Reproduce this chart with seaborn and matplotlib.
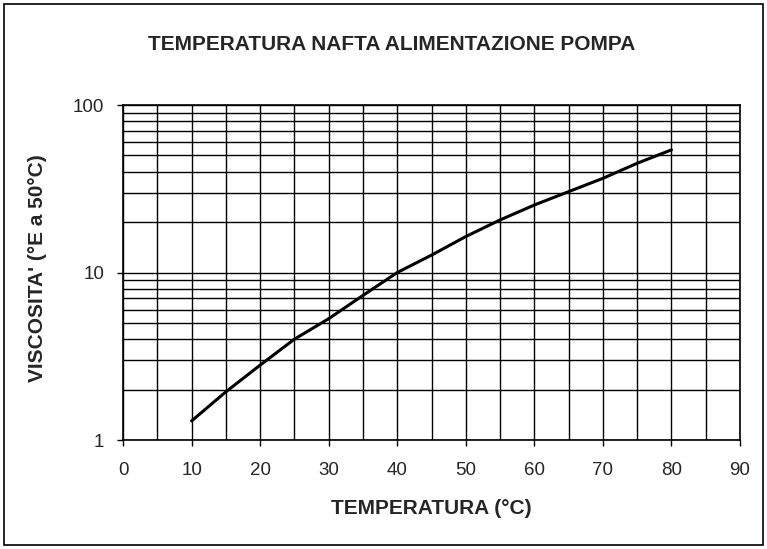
import numpy as np
import pandas as pd
import matplotlib
matplotlib.use("Agg")
import matplotlib.pyplot as plt
import seaborn as sns
from matplotlib.patches import Rectangle
from matplotlib.ticker import LogLocator, FixedLocator, NullFormatter

# ── Data ──────────────────────────────────────────────────────────────────────
temperature = [10, 15, 20, 25, 30, 35, 40, 45, 50, 55, 60, 65, 70, 75, 80]
viscosity = [1.30, 1.94, 2.8, 4.0, 5.3, 7.3, 10.0, 12.7, 16.4, 20.6, 25.3, 30.4, 36.5, 44.9, 54.0]
x_ticks = [0, 10, 20, 30, 40, 50, 60, 70, 80, 90]
y_ticks = [1, 10, 100]

df = pd.DataFrame({"temp": temperature, "visc": viscosity})

sns.set_style("white")
plt.rcParams["font.family"] = ["Liberation Sans", "DejaVu Sans"]

fig = plt.figure(figsize=(7.67, 5.49), dpi=100)
ax = fig.add_axes([0.1604, 0.1985, 0.8044, 0.6102])

sns.lineplot(data=df, x="temp", y="visc", color="black", linewidth=2.2, ax=ax)

ax.set_yscale("log")
ax.set_xlim(0, 90)
ax.set_ylim(1, 100)

ax.xaxis.set_major_locator(FixedLocator(x_ticks))
ax.xaxis.set_minor_locator(FixedLocator(list(range(5, 90, 10))))
ax.yaxis.set_major_locator(FixedLocator(y_ticks))
ax.yaxis.set_minor_locator(LogLocator(base=10, subs=range(2, 10)))
ax.yaxis.set_minor_formatter(NullFormatter())
ax.set_yticklabels([str(v) for v in y_ticks])
ax.set_xticklabels([str(v) for v in x_ticks])

ax.grid(which="both", color="black", linewidth=1.0)
ax.tick_params(which="major", direction="out", length=4.5, width=1, color="black",
               labelsize=13.5, left=True, bottom=True)
ax.tick_params(axis="x", which="major", pad=11)
ax.tick_params(axis="y", which="major", pad=9)
ax.tick_params(which="minor", length=0)
for s in ax.spines.values():
    s.set_color("black")
    s.set_linewidth(1.2)

ax.set_xlabel("")
ax.set_ylabel("")

fig.text(392 / 767, 1 - 45 / 549, "TEMPERATURA NAFTA ALIMENTAZIONE POMPA",
         ha="center", va="center", fontsize=15, fontweight="bold")
fig.text(431 / 767, 1 - 508 / 549, "TEMPERATURA (°C)",
         ha="center", va="center", fontsize=15, fontweight="bold")
fig.text(38 / 767, 1 - 268 / 549, "VISCOSITA' (°E a 50°C)",
         ha="center", va="center", rotation=90, fontsize=15, fontweight="bold")

# outer chart border
fig.add_artist(Rectangle((4 / 767, 4 / 549), 759 / 767, 541 / 549,
                         transform=fig.transFigure, fill=False,
                         edgecolor="black", linewidth=1.2))

fig.savefig("out.png", dpi=100, facecolor="white")
